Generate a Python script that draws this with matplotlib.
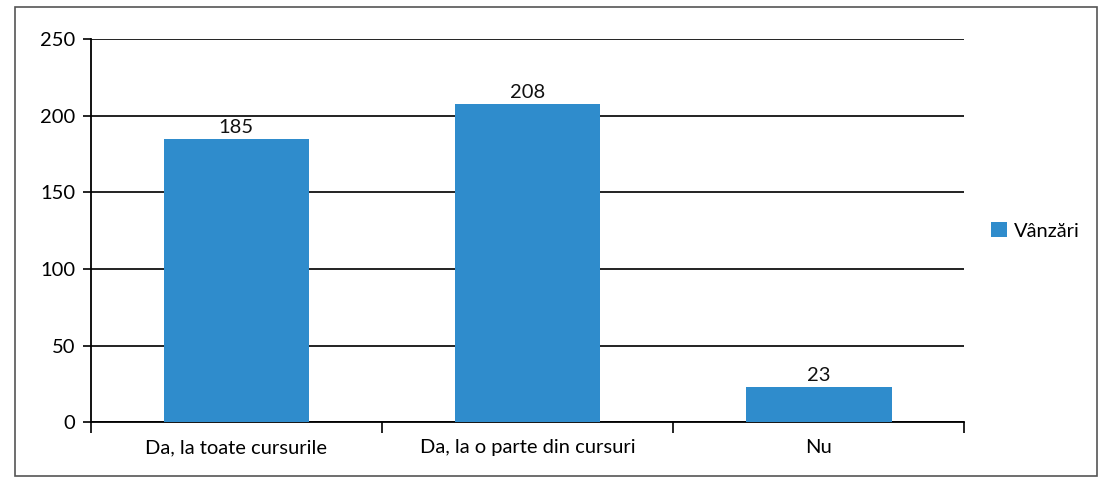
import matplotlib
matplotlib.use("Agg")
import matplotlib.pyplot as plt
from matplotlib.patches import Rectangle
import numpy as np

# date
categorii = ["Da, la toate cursurile", "Da, la o parte din cursuri", "Nu"]
valori = [185, 208, 23]
serie = "Vânzări"
y_ticks = [0, 50, 100, 150, 200, 250]

plt.rcParams['font.family'] = ['Lato', 'DejaVu Sans']

fig = plt.figure(figsize=(11.06, 4.91), dpi=100)
fig.patch.set_facecolor('white')
# chenarul exterior al graficului
fig.patches.append(Rectangle((0.014, 0.03), 0.978, 0.955, transform=fig.transFigure,
                             fill=False, edgecolor='#555555', lw=1.2))

ax = fig.add_axes([0.082, 0.14, 0.79, 0.78])
x = np.arange(len(categorii))
bare = ax.bar(x, valori, width=0.5, color='#2f8ccc', label=serie, zorder=3)

for xi, v in zip(x, valori):
    ax.text(xi, v + 2, str(v), ha='center', va='bottom', fontsize=14.5, color='#111111')

ax.set_xlim(-0.5, len(categorii) - 0.5)
ax.set_ylim(0, 250)
ax.set_yticks(y_ticks)
ax.yaxis.grid(True, color='#111111', lw=1.3, zorder=0)
ax.tick_params(axis='y', length=6, width=1.2, labelsize=14.5, pad=5)

ax.set_xticks(x)
ax.set_xticklabels(categorii, fontsize=14.5)
ax.tick_params(axis='x', length=0, pad=12)
# linii de separare intre categorii
ax.set_xticks(np.arange(-0.5, len(categorii), 1.0), minor=True)
ax.tick_params(axis='x', which='minor', length=8, width=1.2, direction='out')

for s in ['top', 'right']:
    ax.spines[s].set_visible(False)
ax.spines['left'].set_linewidth(1.3)
ax.spines['bottom'].set_linewidth(1.3)

ax.legend(loc='center left', bbox_to_anchor=(1.01, 0.5), frameon=False, fontsize=14.5,
          handlelength=0.8, handleheight=0.8, handletextpad=0.3)

fig.savefig("out.png", dpi=100)
